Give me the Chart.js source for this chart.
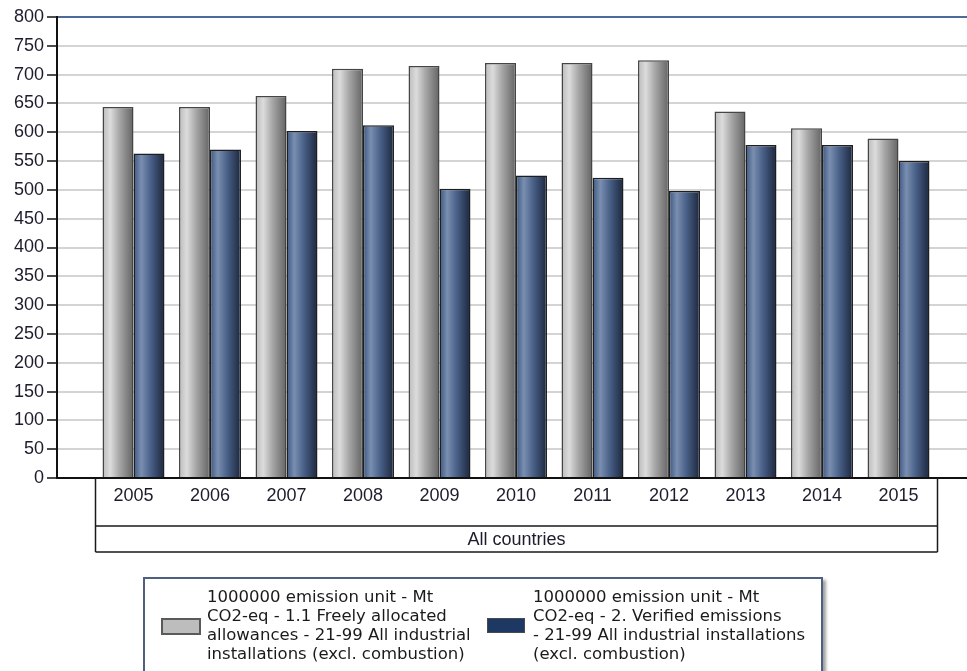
<!DOCTYPE html>
<html>
<head>
<meta charset="utf-8">
<title>Emissions - all industrial installations</title>
<script src="https://cdn.jsdelivr.net/npm/chart.js@4.4.0/dist/chart.umd.min.js"></script>
<style>
    body { margin: 0; background: #fff; overflow: hidden; width: 967px; height: 671px; position: relative; }
    #wrap { position: absolute; left: 0; top: 0; width: 980px; height: 671px; }
    #legend {
        position: absolute; left: 143px; top: 577px; width: 676px; height: 110px;
        border: 2px solid #4e5f80; box-shadow: 3px 3px 3px #a0a0a0; background: #fff;
        font-family: 'DejaVu Sans', sans-serif; font-size: 16.5px; line-height: 19px; color: #1a1a1a;
    }
    .sw { position: absolute; top: 39px; width: 36px; height: 13px; border: 1px solid #4a4a4a; }
    .txt { position: absolute; top: 8px; white-space: nowrap; }
</style>
</head>
<body>
<div id="wrap"><canvas id="chart"></canvas></div>
<div id="legend"></div>
<script>
// data
const years = [2005, 2006, 2007, 2008, 2009, 2010, 2011, 2012, 2013, 2014, 2015];
const allocated = [644, 644, 663, 710, 715, 720, 720, 725, 636, 607, 589];
const verified = [563, 570, 602, 612, 502, 525, 521, 498, 578, 578, 550];
const yTicks = { min: 0, max: 800, step: 50 };
const groupLabel = 'All countries';
const seriesNames = [
    ['1000000 emission unit - Mt', 'CO2-eq - 1.1 Freely allocated', 'allowances - 21-99 All industrial', 'installations (excl. combustion)'],
    ['1000000 emission unit - Mt', 'CO2-eq - 2. Verified emissions', '- 21-99 All industrial installations', '(excl. combustion)']
];

const greyStops = [[0, '#bababa'], [0.25, '#dcdcdc'], [0.55, '#a6a6a6'], [1, '#636363']];
const blueStops = [[0, '#3b5680'], [0.25, '#7a8fb0'], [0.55, '#4a6189'], [1, '#1b263c']];
const swatchColors = ['#bdbdbd', '#1e3864'];

// cylinder-like shading on each bar, based on where the library put it
const shading = {
    id: 'shading',
    beforeDatasetsDraw(chart) {
        const ctx = chart.ctx;
        chart.data.datasets.forEach((ds, i) => {
            const stops = i === 0 ? greyStops : blueStops;
            chart.getDatasetMeta(i).data.forEach(el => {
                const p = el.getProps(['x', 'width'], true);
                const g = ctx.createLinearGradient(p.x - p.width / 2, 0, p.x + p.width / 2, 0);
                stops.forEach(s => g.addColorStop(s[0], s[1]));
                el.options = Object.assign({}, el.options, { backgroundColor: g });
            });
        });
    }
};

// boxed category labels under the plot
const labelBox = {
    id: 'labelBox',
    afterDraw(chart) {
        const ctx = chart.ctx;
        const xs = chart.scales.x;
        const top = chart.chartArea.bottom;
        const mid = top + 48;
        const bot = top + 74;
        const left = Math.round(xs.getPixelForValue(years[0] - 0.5)) + 0.5;
        const right = Math.round(xs.getPixelForValue(years[years.length - 1] + 0.5)) + 0.5;
        ctx.save();
        ctx.strokeStyle = '#1a1a1a';
        ctx.lineWidth = 1.5;
        ctx.beginPath();
        ctx.moveTo(left, top); ctx.lineTo(left, bot);
        ctx.moveTo(right, top); ctx.lineTo(right, bot);
        ctx.moveTo(left, mid); ctx.lineTo(right, mid);
        ctx.moveTo(left, bot); ctx.lineTo(right, bot);
        ctx.stroke();
        ctx.fillStyle = '#1c1c2c';
        ctx.font = '18px "Liberation Sans", Arial, sans-serif';
        ctx.textAlign = 'center';
        ctx.textBaseline = 'middle';
        years.forEach(y => ctx.fillText(String(y), xs.getPixelForValue(y), top + 18));
        ctx.fillText(groupLabel, (left + right) / 2, (mid + bot) / 2 + 1);
        ctx.restore();
    }
};

new Chart(document.getElementById('chart'), {
    type: 'bar',
    data: {
        datasets: [
            { label: seriesNames[0].join(' '), data: years.map((y, i) => ({ x: y, y: allocated[i] })),
              backgroundColor: '#c0c0c0', borderColor: '#454545', borderWidth: 1.5 },
            { label: seriesNames[1].join(' '), data: years.map((y, i) => ({ x: y, y: verified[i] })),
              backgroundColor: '#3b5680', borderColor: '#1e1e1e', borderWidth: 1.5 }
        ]
    },
    options: {
        responsive: true,
        maintainAspectRatio: false,
        animation: false,
        categoryPercentage: 0.81,
        barPercentage: 1,
        layout: { padding: { left: 0, top: 17, right: 5, bottom: 0 } },
        plugins: { legend: { display: false }, tooltip: { enabled: false } },
        scales: {
            x: {
                type: 'linear',
                offset: false,
                min: years[0] - 1,
                max: years[years.length - 1] + 1,
                ticks: { display: false, stepSize: 1 },
                grid: { display: false },
                border: { display: true, color: '#111', width: 2 },
                afterFit: s => { s.height = 193; s.paddingLeft = 0; s.paddingRight = 0; }
            },
            y: {
                min: yTicks.min,
                max: yTicks.max,
                ticks: {
                    stepSize: yTicks.step, padding: 3, color: '#1c1c2c',
                    font: { family: '"Liberation Sans", Arial, sans-serif', size: 18 }
                },
                grid: {
                    color: c => (c.tick && c.tick.value === yTicks.max ? '#4f6a96' : '#d4d4d4'),
                    lineWidth: 2,
                    tickColor: '#111',
                    tickLength: 10,
                    tickWidth: 1.5
                },
                border: { display: true, color: '#111', width: 2 },
                afterFit: s => { s.width = 57; s.paddingTop = 0; s.paddingBottom = 0; }
            }
        }
    },
    plugins: [shading, labelBox]
});

// legend box below the chart
const legend = document.getElementById('legend');
const swatchX = [16, 342];
const textX = [62, 388];
seriesNames.forEach((lines, i) => {
    const sw = document.createElement('div');
    sw.className = 'sw';
    sw.style.left = swatchX[i] + 'px';
    sw.style.background = swatchColors[i];
    if (i === 0) sw.style.border = '2px solid #5a5a5a';
    legend.appendChild(sw);
    const t = document.createElement('div');
    t.className = 'txt';
    t.style.left = textX[i] + 'px';
    t.innerHTML = lines.join('<br>');
    legend.appendChild(t);
});
</script>
</body>
</html>
